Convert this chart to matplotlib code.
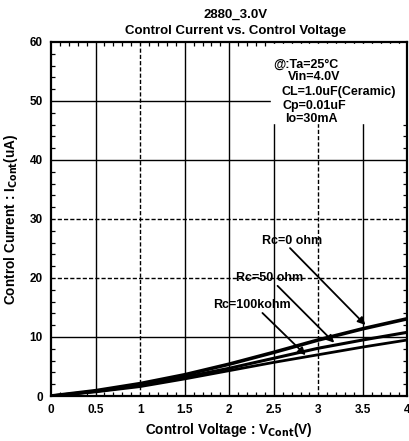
import matplotlib
matplotlib.use("Agg")
import matplotlib.pyplot as plt
from matplotlib.ticker import MultipleLocator

plt.rcParams['font.family'] = ['Liberation Sans', 'DejaVu Sans']
plt.rcParams['mathtext.default'] = 'bf'

v_cont = [0, 0.5, 1.0, 1.5, 2.0, 2.5, 3.0, 3.5, 4.0]
i_rc0 = [0, 0.9, 2.1, 3.6, 5.4, 7.4, 9.5, 11.4, 13.1]
i_rc50 = [0, 0.8, 1.8, 3.2, 4.7, 6.4, 8.1, 9.5, 10.8]
i_rc100k = [0, 0.7, 1.6, 2.9, 4.3, 5.7, 7.0, 8.3, 9.5]

x_ticks = [0, 0.5, 1, 1.5, 2, 2.5, 3, 3.5, 4]
x_tick_labels = ["0", "0.5", "1", "1.5", "2", "2.5", "3", "3.5", "4"]
y_ticks = [0, 10, 20, 30, 40, 50, 60]

cond_lines = ["@:Ta=25°C", "Vin=4.0V", "CL=1.0uF(Ceramic)", "Cp=0.01uF", "Io=30mA"]

fig = plt.figure(figsize=(4.09, 4.41), dpi=100)
ax = fig.add_axes([0.1247, 0.102, 0.8716, 0.803])
ax.set_xlim(0, 4)
ax.set_ylim(0, 60)

# grid
for gx in [0.5, 1, 1.5, 2, 2.5, 3, 3.5]:
    ls = (0, (3, 1.5)) if gx in (1, 3) else '-'
    ax.axvline(gx, color='black', lw=1.0, ls=ls, zorder=1)
for gy in [10, 20, 30, 40, 50]:
    ls = (0, (3, 1.5)) if gy in (20, 30) else '-'
    ax.axhline(gy, color='black', lw=1.0, ls=ls, zorder=1)

ax.plot(v_cont, i_rc0, color='black', lw=2.6, zorder=3)
ax.plot(v_cont, i_rc50, color='black', lw=2.2, zorder=3)
ax.plot(v_cont, i_rc100k, color='black', lw=2.0, zorder=3)

ax.set_xticks(x_ticks)
ax.set_xticklabels(x_tick_labels)
ax.set_yticks(y_ticks)
ax.xaxis.set_minor_locator(MultipleLocator(0.1))
ax.yaxis.set_minor_locator(MultipleLocator(2))
ax.tick_params(which='both', direction='in', top=True, right=True, color='black')
ax.tick_params(which='major', length=0, labelsize=8.5, pad=6)
ax.tick_params(which='minor', length=3, width=0.9)
for lab in ax.get_xticklabels() + ax.get_yticklabels():
    lab.set_fontweight('bold')
for s in ax.spines.values():
    s.set_linewidth(1.6)

ax.set_xlabel(r"Control Voltage : V$_{\mathbf{Cont}}$(V)", fontsize=9.8, fontweight='bold', labelpad=3)
ax.set_ylabel(r"Control Current : I$_{\mathbf{Cont}}$(uA)", fontsize=9.8, fontweight='bold', labelpad=7)

fig.text(0.575, 0.966, "2880_3.0V", ha='center', va='center', fontsize=9.5, fontweight='bold')
fig.text(0.575, 0.929, "Control Current vs. Control Voltage", ha='center', va='center', fontsize=9.5, fontweight='bold')

# conditions box (white background)
ax.fill_between([2.47, 4.0], 46.3, 59.6, color='white', zorder=2)
cond_x = [2.49, 2.66, 2.59, 2.60, 2.63]
cond_y = [56.2, 54.1, 51.5, 49.2, 47.0]
for t, cx, cy in zip(cond_lines, cond_x, cond_y):
    ax.text(cx, cy, t, fontsize=9, fontweight='bold', va='center', ha='left', zorder=4)

# arrows
ann = [("Rc=0 ohm", (3.55, 11.7), (2.71, 26.3), (2.66, 25.4)),
       ("Rc=50 ohm", (3.20, 8.7), (2.45, 20.0), (2.52, 19.0)),
       ("Rc=100kohm", (2.88, 6.6), (2.25, 15.4), (2.35, 14.4))]
for label, head, tpos, tail in ann:
    ax.text(tpos[0], tpos[1], label, fontsize=9, fontweight='bold', ha='center', va='center', zorder=4)
    ax.annotate("", xy=head, xytext=tail,
                arrowprops=dict(arrowstyle='-|>', color='black', lw=1.3, mutation_scale=11), zorder=4)

fig.savefig("out.png", dpi=100)
